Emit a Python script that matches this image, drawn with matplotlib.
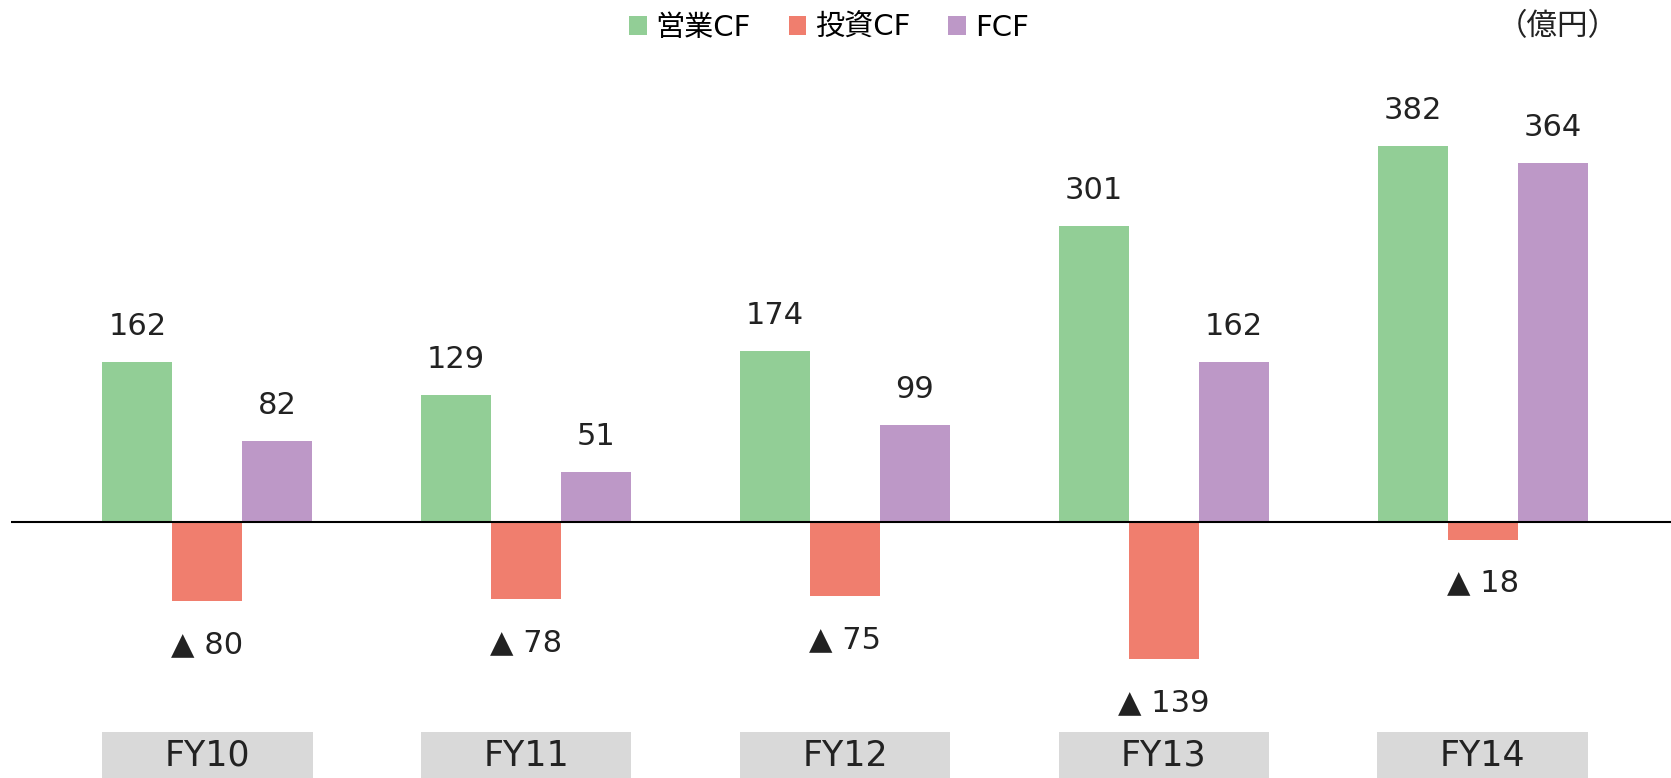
import matplotlib
matplotlib.use("Agg")
import matplotlib.pyplot as plt
import numpy as np
from matplotlib.patches import Rectangle, Patch
from matplotlib.transforms import blended_transform_factory

# DejaVu for latin/digits (Verdana-like), Noto CJK for the Japanese glyphs
plt.rcParams['font.family'] = ['DejaVu Sans', 'Noto Sans CJK JP']

# --- data ---
years = ["FY10", "FY11", "FY12", "FY13", "FY14"]
operating_cf = [162, 129, 174, 301, 382]
investing_cf = [-80, -78, -75, -139, -18]
free_cf = [82, 51, 99, 162, 364]
series_names = ["営業CF", "投資CF", "FCF"]

colors = ["#92CE96", "#F07E6E", "#BD98C7"]

fig = plt.figure(figsize=(16.71, 7.78), dpi=100)
ax = fig.add_axes([11 / 1671, 1 - 725 / 778, 1 - 11 / 1671, 665 / 778])

x = np.arange(len(years))
w = 0.219
all_series = [operating_cf, investing_cf, free_cf]
for i, (vals, col) in enumerate(zip(all_series, colors)):
    xs = x + (i - 1) * w
    ax.bar(xs, vals, width=w, color=col, label=series_names[i])
    for xx, v in zip(xs, vals):
        if v >= 0:
            ax.text(xx, v + 36, str(v), ha="center", va="center", fontsize=22, color="#222222")
        else:
            ax.text(xx, v - 44, "▲ " + str(-v), ha="center", va="center", fontsize=22, color="#222222")

ax.axhline(0, color="black", lw=1.5)
ax.set_xlim(-0.615, 4.59)
ax.set_ylim(-206, 469)
ax.axis("off")

# category boxes at the bottom
trans = blended_transform_factory(ax.transData, fig.transFigure)
box_w = 0.661
for xx, name in zip(x, years):
    ax.add_patch(Rectangle((xx - box_w / 2, 0), box_w, 46 / 778, transform=trans,
                           facecolor="#D9D9D9", edgecolor="none", clip_on=False))
    ax.text(xx, 22 / 778, name, transform=trans, ha="center", va="center",
            fontsize=25, color="#222222")

handles = [Patch(facecolor=c, edgecolor="none") for c in colors]
fig.legend(handles, series_names, loc="center", bbox_to_anchor=(829 / 1671, 1 - 28 / 778),
           ncol=3, frameon=False, fontsize=21, handlelength=0.6, handleheight=0.6,
           handletextpad=0.3, columnspacing=1.3)

fig.text(1558 / 1671, 1 - 27 / 778, "（億円）", ha="center", va="center", fontsize=22, color="#222222")

fig.savefig("out.png", dpi=100)
